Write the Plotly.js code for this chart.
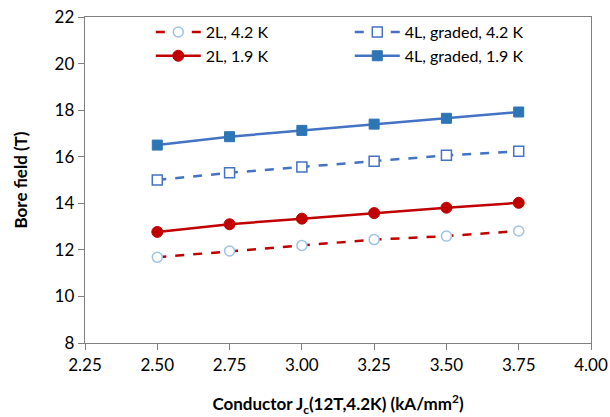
<!DOCTYPE html>
<html><head><meta charset="utf-8">
<script src="https://cdn.plot.ly/plotly-3.0.1.min.js"></script>
<style>html,body{margin:0;padding:0;background:#fff}#c{width:610px;height:417px}</style>
</head><body><div id="c"></div>
<script>
const jc = [2.50, 2.75, 3.00, 3.25, 3.50, 3.75];
const l2_42 = [11.68, 11.95, 12.19, 12.44, 12.59, 12.81];
const l4_42 = [15.00, 15.31, 15.56, 15.81, 16.06, 16.23];
const l2_19 = [12.77, 13.10, 13.34, 13.58, 13.81, 14.02];
const l4_19 = [16.50, 16.86, 17.13, 17.40, 17.65, 17.92];
const names = ["2L, 4.2 K", "4L, graded, 4.2 K", "2L, 1.9 K", "4L, graded, 1.9 K"];
const xTicks = [2.25, 2.50, 2.75, 3.00, 3.25, 3.50, 3.75, 4.00];
const yTicks = [8, 10, 12, 14, 16, 18, 20, 22];

const red = "#C00000", blue = "#4472C4";
const traces = [
  {x: jc, y: l2_42, name: names[0], mode: "lines+markers",
   line: {color: red, width: 2.5, dash: "dash"},
   marker: {symbol: "circle", size: 10, color: "#ffffff", line: {color: "#9DC3E6", width: 1.5}}},
  {x: jc, y: l4_42, name: names[1], mode: "lines+markers",
   line: {color: blue, width: 2.5, dash: "dash"},
   marker: {symbol: "square", size: 10, color: "#ffffff", line: {color: blue, width: 1.5}}},
  {x: jc, y: l2_19, name: names[2], mode: "lines+markers",
   line: {color: red, width: 2.5},
   marker: {symbol: "circle", size: 11, color: red, line: {color: red, width: 1}}},
  {x: jc, y: l4_19, name: names[3], mode: "lines+markers",
   line: {color: blue, width: 2.5},
   marker: {symbol: "square", size: 10, color: "#2E75B6", line: {color: "#2E75B6", width: 1}}}
];
const font = "Lato, 'Open Sans', sans-serif";
const layout = {
  width: 610, height: 417,
  margin: {l: 85, r: 19, t: 17, b: 74},
  paper_bgcolor: "#fff", plot_bgcolor: "#fff",
  font: {family: font, size: 16, color: "#000"},
  showlegend: true,
  legend: {orientation: "h", x: 0.13, y: 1.006, xanchor: "left", yanchor: "top",
    entrywidth: 139, entrywidthmode: "pixels", traceorder: "normal", tracegroupgap: 0,
    font: {family: font, size: 16, color: "#000"}, bgcolor: "rgba(0,0,0,0)", itemwidth: 45},
  xaxis: {range: [2.25, 4.00], tickvals: xTicks, ticktext: xTicks.map(v => v.toFixed(2)),
    showgrid: false, zeroline: false, showline: true, linecolor: "#7f7f7f", linewidth: 1.3, mirror: true,
    ticks: "outside", ticklen: 6, tickcolor: "#7f7f7f",
    tickfont: {family: font, size: 17, color: "#000"},
    title: {text: "<b>Conductor J<sub>c</sub>(12T,4.2K) (kA/mm<sup>2</sup>)</b>", font: {family: font, size: 17, color: "#000"}, standoff: 37}},
  yaxis: {range: [8, 22], tickvals: yTicks,
    showgrid: false, zeroline: false, showline: true, linecolor: "#7f7f7f", linewidth: 1.3, mirror: true,
    ticks: "outside", ticklen: 6, tickcolor: "#7f7f7f",
    tickfont: {family: font, size: 17, color: "#000"},
    title: {text: "<b>Bore field (T)</b>", font: {family: font, size: 17, color: "#000"}, standoff: 22}}
};
Plotly.newPlot("c", traces, layout, {displayModeBar: false, staticPlot: true});
</script></body></html>
